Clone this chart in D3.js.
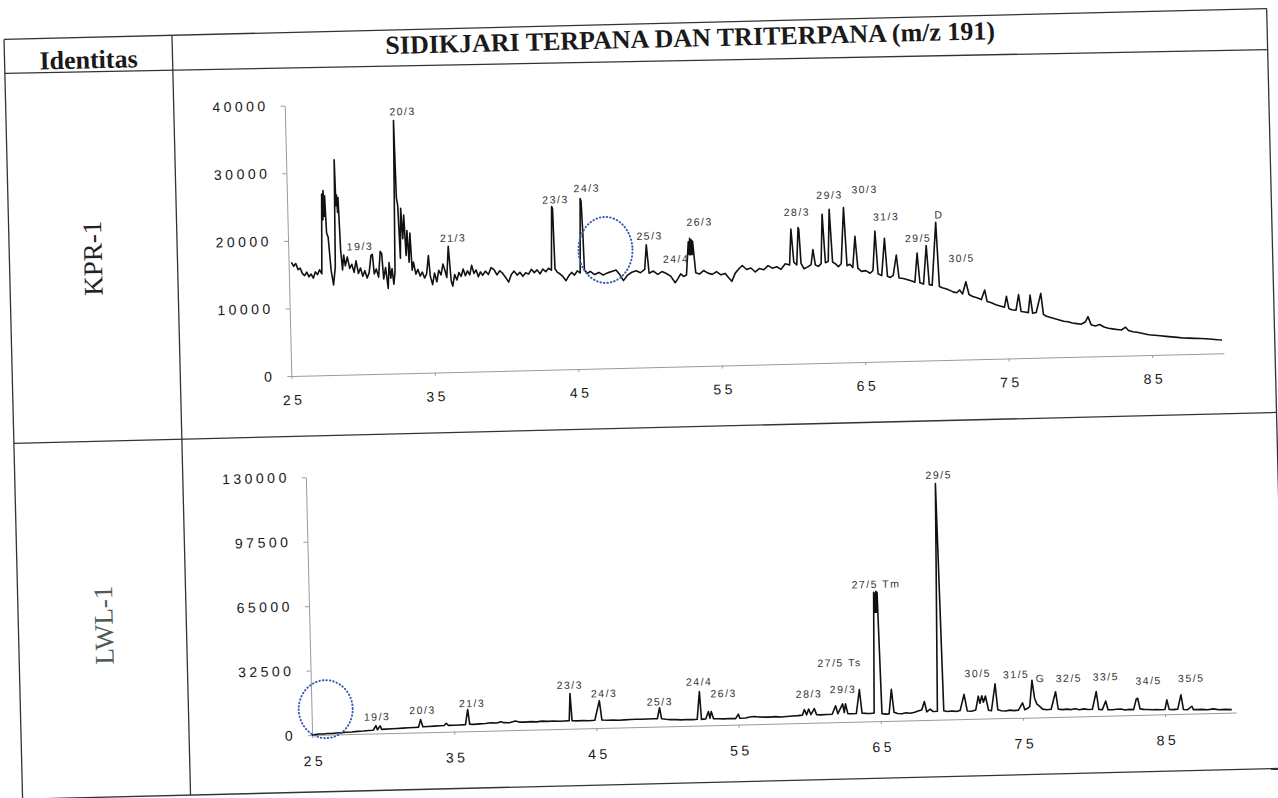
<!DOCTYPE html>
<html lang="en">

<head>
    <meta charset="UTF-8">
    <title>Sidikjari Terpana dan Triterpana (m/z 191)</title>
    <script src="https://d3js.org/d3.v7.min.js"></script>
    <style>
        body {
            margin: 0;
            padding: 0;
            background-color: #fff;
        }

        svg {
            display: block;
        }

        .grid-line {
            stroke: #333;
            stroke-width: 1.3;
        }

        .head {
            font-family: 'Liberation Serif', 'Times New Roman', serif;
            font-weight: bold;
            font-size: 26px;
            fill: #1a1a1a;
        }

        .well {
            font-family: 'Liberation Serif', 'Times New Roman', serif;
            font-size: 27px;
        }

        .axis path,
        .axis line {
            stroke: #9a9a9a;
        }

        .axis text {
            font-family: 'Liberation Sans', Arial, sans-serif;
            font-size: 14px;
            letter-spacing: 3.5px;
            fill: #1a1a1a;
        }

        .peak-label {
            font-family: 'Liberation Sans', Arial, sans-serif;
            font-size: 10.5px;
            letter-spacing: 1.5px;
            fill: #333;
            text-anchor: middle;
        }
    </style>
</head>

<body>
    <svg id="chart" width="1278" height="798"></svg>

    <script>
        // Retention time ticks shared by both traces
        const xTicks = [25, 35, 45, 55, 65, 75, 85];
        const kprYTicks = [0, 10000, 20000, 30000, 40000];
        const lwlYTicks = [0, 32500, 65000, 97500, 130000];

        // KPR-1 trace: [retention time, intensity]
        const kprTrace = [
            [25.2, 16800], [25.35, 16200], [25.5, 16600], [25.65, 15700], [25.8, 15900], [25.95, 15100],
            [26.1, 14800], [26.25, 15300], [26.4, 14600], [26.55, 15000], [26.7, 14400], [26.85, 15300],
            [27.0, 14900], [27.15, 15600], [27.3, 15000], [27.42, 26800], [27.47, 23000], [27.52, 27300],
            [27.57, 23500], [27.62, 26500], [27.7, 21000], [27.8, 20400], [27.95, 15500], [28.1, 13300],
            [28.25, 16000], [28.35, 31800], [28.4, 25000], [28.45, 26600], [28.5, 24000], [28.55, 26200],
            [28.65, 18400], [28.75, 15500], [28.85, 17700], [28.95, 16100],
            [29.1, 17400], [29.25, 15700], [29.4, 16300], [29.55, 15100], [29.7, 16800], [29.85, 14900],
            [30.0, 15700], [30.15, 14500], [30.3, 15300], [30.45, 14200], [30.6, 15000], [30.75, 17500],
            [30.85, 17700], [30.95, 14800], [31.1, 15500], [31.25, 14300], [31.4, 18100], [31.5, 17800],
            [31.6, 14000], [31.75, 15700], [31.9, 12600], [32.0, 16400], [32.1, 14100], [32.2, 15500],
            [32.3, 13200], [32.4, 15000], [32.55, 37400], [32.62, 26000], [32.7, 24800], [32.8, 17000],
            [32.9, 24400], [33.0, 19900], [33.1, 23400], [33.2, 17400], [33.3, 21100], [33.4, 16400],
            [33.5, 20700], [33.6, 15200], [33.7, 16400], [33.85, 14600], [34.0, 15300], [34.15, 14300],
            [34.3, 14900], [34.45, 14000], [34.6, 14600], [34.75, 17300], [34.85, 14300], [35.0, 13000],
            [35.15, 14700], [35.3, 13400], [35.45, 15100], [35.6, 14400], [35.75, 16000], [35.9, 14900],
            [36.0, 14000], [36.15, 18600], [36.3, 13500], [36.4, 12700], [36.55, 14400], [36.7, 13600],
            [36.85, 14700], [37.0, 14100], [37.15, 15200], [37.3, 14200], [37.45, 14900], [37.6, 14300],
            [37.75, 15700], [37.9, 14500], [38.05, 15000], [38.2, 14000], [38.35, 14700], [38.5, 14200],
            [38.7, 14800], [38.9, 14300], [39.1, 15300], [39.3, 15000], [39.5, 14200], [39.7, 14800],
            [39.9, 14400], [40.1, 13800], [40.3, 13100], [40.5, 14200], [40.7, 14700], [40.9, 14100],
            [41.1, 14500], [41.3, 13900], [41.5, 14400], [41.7, 14200], [41.9, 14900], [42.1, 14400],
            [42.3, 14800], [42.5, 14200], [42.7, 14900], [42.9, 14500], [43.1, 15000], [43.3, 14700],
            [43.42, 24100], [43.48, 23800], [43.55, 14900], [43.7, 14400], [43.9, 14100], [44.1, 13700],
            [44.3, 13100], [44.5, 13800], [44.7, 14300], [44.9, 13900], [45.1, 14500], [45.3, 14200],
            [45.42, 25200], [45.48, 24800], [45.55, 20000], [45.6, 14600], [45.8, 14100], [46.0, 14400],
            [46.3, 13900], [46.6, 14200], [46.9, 13800], [47.2, 14100], [47.5, 14300], [47.8, 14500],
            [48.05, 13800], [48.3, 12900], [48.6, 13700], [48.9, 14100], [49.2, 14300], [49.5, 14000],
            [49.8, 14500], [49.95, 18100], [50.1, 13900], [50.4, 14200], [50.7, 13700], [51.0, 14100],
            [51.3, 13800], [51.6, 13400], [51.9, 12400], [52.1, 13000], [52.3, 13700], [52.5, 13300],
            [52.7, 13500], [52.88, 18400], [52.93, 16500], [52.98, 18900], [53.03, 16500], [53.08, 18700],
            [53.13, 16500], [53.18, 18500], [53.35, 13800], [53.6, 13600], [53.9, 14100], [54.2, 13700],
            [54.5, 13500], [54.8, 13900], [55.1, 13400], [55.4, 13600], [55.65, 12900], [55.85, 12400],
            [56.1, 13600], [56.4, 14300], [56.6, 14700], [56.9, 14100], [57.2, 14300], [57.5, 13700],
            [57.8, 14200], [58.1, 14000], [58.4, 14600], [58.7, 14200], [59.0, 14400], [59.3, 14000],
            [59.6, 14800], [59.9, 14600], [60.05, 19900], [60.2, 15000], [60.4, 14600], [60.55, 20100],
            [60.6, 19800], [60.7, 14800], [60.9, 14000], [61.2, 14300], [61.4, 14600], [61.55, 16800],
            [61.7, 14500], [61.9, 14300], [62.1, 14700], [62.25, 22000], [62.4, 14800], [62.6, 15000],
            [62.75, 22700], [62.9, 14900], [63.1, 14600], [63.3, 14200], [63.5, 14600], [63.75, 22900],
            [63.9, 14300], [64.1, 14500], [64.3, 14000], [64.5, 18600], [64.65, 13900], [64.9, 13400],
            [65.2, 13500], [65.5, 13100], [65.7, 13500], [65.9, 19300], [66.05, 13000], [66.3, 12700],
            [66.55, 18200], [66.7, 12600], [66.9, 12400], [67.1, 12700], [67.35, 15700], [67.5, 12300],
            [67.8, 12200], [68.1, 12000], [68.4, 11800], [68.6, 11600], [68.8, 15900], [68.95, 11500],
            [69.2, 11300], [69.45, 17000], [69.6, 11200], [69.8, 11100], [70.15, 20400], [70.3, 10900],
            [70.5, 10700], [70.8, 10500], [71.1, 10200], [71.3, 10000], [71.5, 9900], [71.7, 10300],
            [71.9, 9700], [72.15, 11500], [72.35, 9600], [72.6, 9300], [72.9, 9100], [73.2, 8800],
            [73.45, 10200], [73.6, 8500], [73.9, 8300], [74.2, 8000], [74.5, 7800], [74.8, 7600],
            [74.95, 9200], [75.1, 7400], [75.3, 7200], [75.6, 7100], [75.8, 9400], [75.95, 6900],
            [76.2, 6800], [76.45, 6700], [76.6, 9300], [76.75, 6600], [77.0, 6700], [77.35, 9500],
            [77.5, 6400], [77.7, 6100], [78.0, 5900], [78.3, 5700], [78.6, 5500], [78.9, 5300],
            [79.2, 5200], [79.5, 5000], [79.8, 4900], [80.1, 4800], [80.4, 5100], [80.6, 5900],
            [80.8, 4700], [81.1, 4500], [81.4, 4700], [81.7, 4300], [82.0, 4100], [82.3, 4000],
            [82.6, 3900], [82.9, 3800], [83.2, 4200], [83.4, 3700], [83.7, 3500], [84.0, 3400],
            [84.4, 3200], [84.8, 3000], [85.2, 2900], [85.6, 2800], [86.0, 2700], [86.4, 2600],
            [86.8, 2500], [87.2, 2400], [87.6, 2350], [88.0, 2300], [88.4, 2250], [88.8, 2200],
            [89.2, 2100], [89.6, 2000], [89.9, 1950]
        ];

        // LWL-1 trace: [retention time, intensity]
        const lwlTrace = [
            [25.0, 0], [25.2, 200], [25.5, 450], [25.8, 400], [26.1, 600], [26.4, 550], [26.7, 750],
            [27.0, 850], [27.4, 1000], [27.8, 1100], [28.2, 1300], [28.6, 1400], [29.0, 1600], [29.3, 1700],
            [29.5, 4000], [29.6, 1900], [29.8, 3800], [29.9, 2000], [30.2, 2100], [30.6, 2200], [31.0, 2300],
            [31.4, 2400], [31.8, 2500], [32.2, 2600], [32.5, 2700], [32.65, 6500], [32.8, 2800], [33.2, 2900],
            [33.6, 3000], [34.0, 3100], [34.3, 3200], [34.45, 4300], [34.6, 3200], [35.0, 3200], [35.4, 3300],
            [35.8, 3400], [35.98, 11000], [36.1, 3500], [36.4, 3400], [36.8, 3600], [37.2, 3700], [37.6, 4000],
            [38.0, 3800], [38.3, 4400], [38.5, 3900], [38.9, 3800], [39.3, 4600], [39.6, 4000], [40.0, 3900],
            [40.4, 4100], [40.8, 3900], [41.2, 4200], [41.6, 4000], [42.0, 4100], [42.4, 3900], [42.8, 4000],
            [43.1, 4100], [43.2, 17800], [43.3, 4100], [43.7, 3900], [44.1, 4000], [44.5, 3800], [44.9, 4000],
            [45.25, 13800], [45.4, 4000], [45.8, 3800], [46.2, 3900], [46.6, 3700], [47.0, 3800], [47.4, 3900],
            [47.8, 4000], [48.2, 3900], [48.6, 4000], [49.0, 4000], [49.3, 4000], [49.47, 9500], [49.6, 3900],
            [49.9, 3600], [50.2, 3400], [50.6, 3300], [51.0, 3100], [51.4, 3200], [51.8, 3100], [52.1, 3200],
            [52.3, 17200], [52.4, 3100], [52.7, 3300], [52.9, 7000], [53.0, 3600], [53.1, 7000], [53.25, 3300],
            [53.6, 3200], [54.0, 3100], [54.4, 3200], [54.8, 3100], [55.0, 5300], [55.1, 3200], [55.5, 3300],
            [55.8, 3700], [56.1, 3900], [56.4, 3600], [56.8, 3500], [57.2, 3400], [57.6, 3600], [58.0, 3300],
            [58.4, 3500], [58.8, 3700], [59.2, 3800], [59.5, 4000], [59.65, 6800], [59.8, 4100], [59.95, 7000],
            [60.1, 4200], [60.35, 7200], [60.5, 4100], [60.8, 3900], [61.2, 4000], [61.6, 4100], [61.85, 8300],
            [62.0, 4300], [62.35, 9200], [62.45, 4800], [62.55, 9200], [62.7, 4200], [63.0, 4100], [63.3, 4200],
            [63.55, 16200], [63.7, 4300], [64.0, 4100], [64.3, 4000], [64.55, 4200], [64.72, 65000],
            [64.76, 55000], [64.8, 64500], [64.84, 55000], [64.88, 65500], [64.92, 55000], [64.96, 65000],
            [65.1, 3800], [65.4, 3500],
            [65.6, 3600], [65.8, 15900], [65.95, 4300], [66.2, 3700], [66.5, 3500], [66.8, 3900], [67.1, 3600],
            [67.4, 4100], [67.7, 4800], [67.9, 5100], [68.1, 9400], [68.25, 4100], [68.5, 5500], [68.7, 4200],
            [69.0, 4300], [69.25, 119000], [69.45, 4500], [69.7, 4100], [70.0, 4300], [70.3, 4000],
            [70.6, 4400], [70.9, 12500], [71.1, 4100], [71.4, 3900], [71.7, 4500], [71.9, 11400],
            [72.0, 7800], [72.15, 11600], [72.25, 8300], [72.4, 11400], [72.6, 4200], [72.8, 3900],
            [73.1, 17400], [73.25, 4300], [73.5, 3800], [73.8, 3600], [74.1, 4000], [74.4, 3700],
            [74.7, 3900], [75.0, 7500], [75.15, 4000], [75.35, 4700], [75.5, 5500], [75.7, 18700],
            [75.85, 9800], [76.0, 6800], [76.2, 5500], [76.4, 4100], [76.7, 3700], [77.0, 3900],
            [77.34, 12700], [77.5, 3900], [77.8, 3600], [78.1, 3800], [78.4, 3500], [78.7, 3900],
            [79.0, 3300], [79.3, 3700], [79.6, 3300], [79.9, 3400], [80.2, 12300], [80.35, 3200],
            [80.6, 3100], [80.85, 7400], [81.0, 3000], [81.3, 2900], [81.6, 3100], [81.9, 3200],
            [82.2, 2600], [82.5, 2900], [82.8, 2700], [83.0, 8000], [83.1, 8400], [83.25, 3000],
            [83.5, 2700], [83.8, 2600], [84.1, 2400], [84.4, 2500], [84.7, 2300], [85.0, 2400],
            [85.15, 7200], [85.3, 2300], [85.6, 2200], [85.9, 2400], [86.15, 9600], [86.3, 2200],
            [86.6, 2000], [86.9, 3700], [87.0, 2000], [87.3, 1900], [87.6, 2000], [88.0, 1700],
            [88.4, 2100], [88.8, 1600], [89.2, 1700], [89.7, 1500]
        ];

        // Peak annotations: [label, retention time, intensity at label]
        const kprLabels = [
            ["19/3", 30.0, 18900], ["20/3", 33.2, 38700], ["21/3", 36.5, 19800], ["23/3", 43.7, 25100],
            ["24/3", 45.9, 26700], ["25/3", 50.2, 19400], ["24/4", 52.0, 15900], ["26/3", 53.7, 21300],
            ["28/3", 60.5, 22400], ["29/3", 62.8, 24800], ["30/3", 65.25, 25500], ["31/3", 66.7, 21400],
            ["29/5", 68.9, 18100], ["D", 70.4, 21500], ["30/5", 71.9, 15000]
        ];
        const lwlLabels = [
            ["19/3", 29.6, 8400], ["20/3", 32.8, 11200], ["21/3", 36.3, 14000], ["23/3", 43.2, 22000],
            ["24/3", 45.6, 17400], ["25/3", 49.5, 12500], ["24/4", 52.3, 22100], ["26/3", 54.0, 15900],
            ["28/3", 60.0, 14600], ["29/3", 62.4, 16500], ["27/5 Ts", 62.2, 29900], ["27/5 Tm", 64.9, 69100],
            ["29/5", 69.5, 123300], ["30/5", 71.9, 22900], ["31/5", 74.6, 21900], ["G", 76.3, 19600],
            ["32/5", 78.3, 19300], ["33/5", 80.9, 19600], ["34/5", 83.9, 17100], ["35/5", 86.9, 17800]
        ];

        // Dotted circle marks: [retention time, intensity]
        const kprCircle = [47.1, 17500];
        const lwlCircle = [26.0, 12900];

        const svg = d3.select("#chart");
        svg.append("rect").attr("width", 1278).attr("height", 798).attr("fill", "#fff");

        // the scanned page sits slightly tilted
        const page = svg.append("g").attr("transform", "rotate(-1.4 639 399)");

        // table frame
        const frame = [
            [13, 24, 1276, 24], [13, 58, 1276, 65], [13, 428, 1276, 428], [13, 784, 1276, 784],
            [13, 24, 13, 784], [181, 24, 181, 784], [1276, 24, 1276, 784]
        ];
        page.selectAll(".grid-line")
            .data(frame)
            .join("line")
            .attr("class", "grid-line")
            .attr("x1", d => d[0]).attr("y1", d => d[1])
            .attr("x2", d => d[2]).attr("y2", d => d[3]);

        page.append("text").attr("class", "head")
            .attr("x", 97).attr("y", 55).attr("text-anchor", "middle")
            .text("Identitas");
        page.append("text").attr("class", "head")
            .attr("x", 699).attr("y", 48).attr("text-anchor", "middle")
            .text("SIDIKJARI TERPANA DAN TRITERPANA (m/z 191)");

        page.append("text").attr("class", "well")
            .attr("transform", "translate(96,245) rotate(-90)")
            .attr("text-anchor", "middle").attr("dy", "0.35em")
            .attr("fill", "#222")
            .text("KPR-1");
        page.append("text").attr("class", "well")
            .attr("transform", "translate(98,612) rotate(-90)")
            .attr("text-anchor", "middle").attr("dy", "0.35em")
            .attr("fill", "#4d5a58")
            .text("LWL-1");

        function drawTrace(opts) {
            const x = d3.scaleLinear().domain([25, 90]).range(opts.xRange);
            const y = d3.scaleLinear().domain(opts.yDomain).range(opts.yRange);
            const g = page.append("g");

            // x axis
            g.append("g")
                .attr("class", "axis")
                .attr("transform", `translate(0,${opts.yRange[0]})`)
                .call(d3.axisBottom(x).tickValues(xTicks).tickFormat(d3.format("d"))
                    .tickSize(3).tickSizeOuter(0).tickPadding(opts.xPad))
                .selectAll("text").attr("dx", "1.75px");

            // y axis
            g.append("g")
                .attr("class", "axis")
                .attr("transform", `translate(${opts.xRange[0]},0)`)
                .call(d3.axisLeft(y).tickValues(opts.yTicks).tickFormat(d3.format("d"))
                    .tickSize(4).tickSizeOuter(0).tickPadding(12));

            g.append("path")
                .datum(opts.trace)
                .attr("fill", "none")
                .attr("stroke", "#111")
                .attr("stroke-width", 1.6)
                .attr("stroke-linejoin", "round")
                .attr("d", d3.line().x(d => x(d[0])).y(d => y(d[1])));

            g.selectAll(".peak-label")
                .data(opts.labels)
                .join("text")
                .attr("class", "peak-label")
                .attr("x", d => x(d[1]))
                .attr("y", d => y(d[2]))
                .attr("dy", "0.35em")
                .text(d => d[0]);

            g.append("ellipse")
                .attr("cx", x(opts.circle[0]))
                .attr("cy", y(opts.circle[1]))
                .attr("rx", 27).attr("ry", opts.circleRy)
                .attr("fill", "none")
                .attr("stroke", "#3d5bb8")
                .attr("stroke-width", 2)
                .attr("stroke-dasharray", "0.5,3")
                .attr("stroke-linecap", "round");
        }

        drawTrace({
            trace: kprTrace, labels: kprLabels, circle: kprCircle, circleRy: 33,
            xRange: [292, 292 + 65 * 14.35], yDomain: [0, 40000], yRange: [367.5, 97],
            yTicks: kprYTicks, xPad: 16
        });

        drawTrace({
            trace: lwlTrace, labels: lwlLabels, circle: lwlCircle, circleRy: 29,
            xRange: [304, 304 + 65 * 14.22], yDomain: [0, 130000], yRange: [727, 469],
            yTicks: lwlYTicks, xPad: 18
        });
    </script>
</body>

</html>
